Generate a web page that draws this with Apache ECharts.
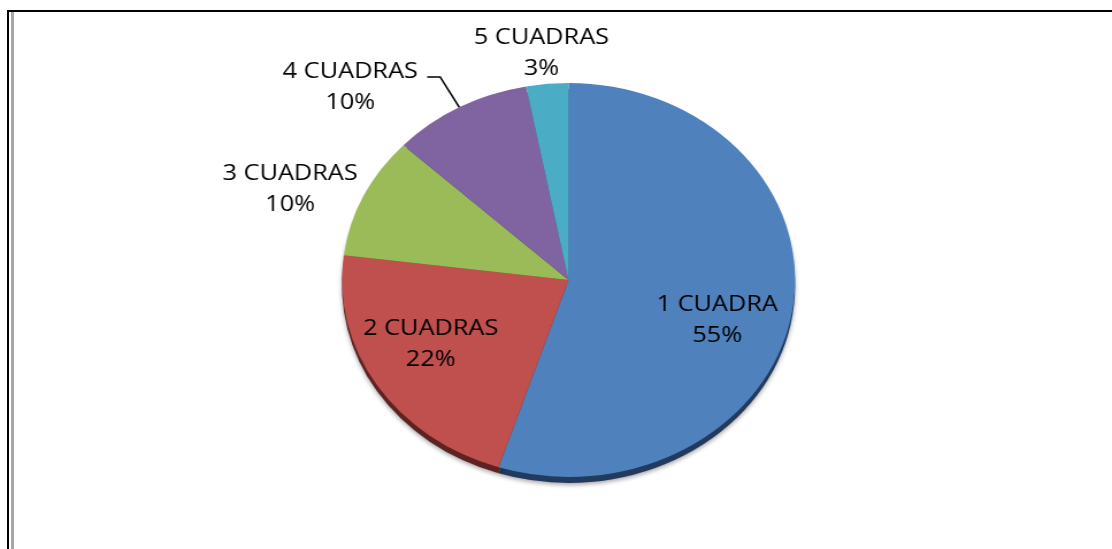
<!DOCTYPE html>
<html><head><meta charset="utf-8">
<script src="https://cdn.jsdelivr.net/npm/echarts@6/dist/echarts.min.js"></script>
<style>
html,body{margin:0;padding:0;background:#fff;overflow:hidden;}
#wrap{position:relative;width:1112px;height:549px;overflow:hidden;background:#fff;}
#chart{position:absolute;left:0;top:0;width:967px;height:549px;transform:scaleX(1.15);transform-origin:0 0;}
.fr{position:absolute;}
</style></head><body>
<div id="wrap">
<div id="chart"></div>
<div class="fr" style="left:7px;top:10px;width:1105px;height:2px;background:#000"></div>
<div class="fr" style="left:7px;top:10px;width:2px;height:539px;background:#000"></div>
<div class="fr" style="left:11px;top:12px;width:3px;height:537px;background:#a6a6a6"></div>
</div>
<script>
// ---- data ----
const categories = ['1 CUADRA', '2 CUADRAS', '3 CUADRAS', '4 CUADRAS', '5 CUADRAS'];
const percentages = [55, 22, 10, 10, 3];
const sliceColors = ['#4f81bd', '#c0504d', '#9bbb59', '#8064a2', '#4bacc6'];
const edgeColors = ['#213a5e', '#5c2322', '#4a5a2a', '#3d2f4f', '#235a68'];

// ---- layout ----
const SX = 1.15;               // horizontal stretch of the whole drawing (elliptic pie)
const CX = 568.5 / SX, CY = 280, R = 197;
const FONT = 'Open Sans';

const rich = { c: { align: 'center', fontFamily: FONT, fontSize: 22, lineHeight: 31, color: '#000' } };
const fmt = '{c|{b}}\n{c|{d}%}';

const outerLabel = [
  { show: false },
  { show: false },
  { show: true, padding: [0, 0, 14, 0] },
  { show: true, padding: [20, 0, 0, 0], distanceToLabelLine: 8 },
  { show: true }
];
const outerLine = [
  { show: false },
  { show: false },
  { show: false },
  { show: true, length: 34.7, length2: 11.3, lineStyle: { color: '#000', width: 1.6 } },
  { show: false }
];
const innerLabel = [
  { show: true, padding: [38, 10, 0, 0] },
  { show: true, padding: [0, 10, 18, 0] },
  { show: false }, { show: false }, { show: false }
];

const chart = echarts.init(document.getElementById('chart'), null, { renderer: 'canvas' });
chart.setOption({
  animation: false,
  backgroundColor: 'transparent',
  series: [
    { // 3D edge
      type: 'pie', silent: true, center: [CX, CY + 6], radius: R,
      label: { show: false }, labelLine: { show: false },
      itemStyle: { borderWidth: 0, shadowBlur: 4, shadowOffsetY: 2, shadowColor: 'rgba(0,0,0,0.35)' },
      data: categories.map((n, i) => ({ name: n, value: percentages[i], itemStyle: { color: edgeColors[i] } }))
    },
    { // main pie
      type: 'pie', silent: true, center: [CX, CY], radius: R, avoidLabelOverlap: false,
      label: { position: 'outside', formatter: fmt, rich: rich, distanceToLabelLine: 5 },
      labelLine: { show: false, length: 0, length2: 0, smooth: false },
      labelLayout: function (p) { if (p.dataIndex === 4) return { align: 'center', verticalAlign: 'bottom' }; },
      itemStyle: { borderWidth: 0 },
      data: categories.map((n, i) => ({
        name: n, value: percentages[i], itemStyle: { color: sliceColors[i] },
        label: outerLabel[i], labelLine: outerLine[i]
      }))
    },
    { // inside labels
      type: 'pie', silent: true, center: [CX, CY], radius: [69, R], avoidLabelOverlap: false,
      label: { position: 'inside', formatter: fmt, rich: rich },
      labelLine: { show: false },
      itemStyle: { color: 'rgba(0,0,0,0)', borderWidth: 0 },
      data: categories.map((n, i) => ({ name: n, value: percentages[i], label: innerLabel[i] }))
    }
  ]
});
</script>
</body></html>
